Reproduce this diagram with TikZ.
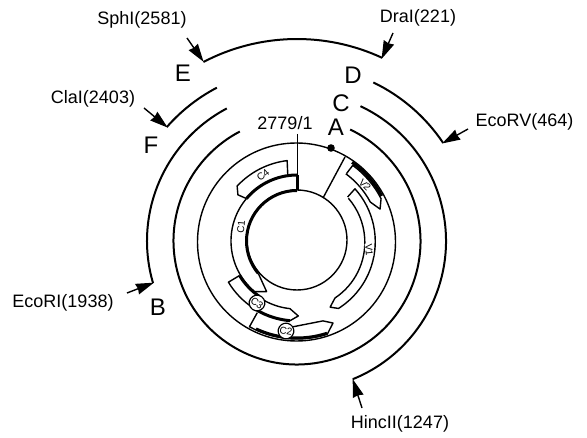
\documentclass[tikz,border=0pt]{standalone}
\usepackage{fontspec}
\setmainfont{Liberation Sans}
\usetikzlibrary{arrows.meta}
\tikzset{
  site/.style={font=\fontsize{18}{20}\selectfont,inner sep=0pt},
  letter/.style={font=\fontsize{24}{26}\selectfont,inner sep=0pt},
  ringarc/.style={line width=2pt},
  thinring/.style={line width=1.4pt},
  genebox/.style={line width=1.4pt,line join=round},
  heavy/.style={line width=3pt},
  leader/.style={line width=1.4pt,-{Stealth[length=18pt,width=11pt,inset=1pt]},shorten >=-1pt},
  tag/.style={font=\fontsize{10}{11}\selectfont,inner sep=0.4pt,fill=white},
  ctag/.style={tag,circle,draw,line width=1.2pt,minimum size=12pt}
}
\begin{document}
\begin{tikzpicture}[x=1pt,y=1pt]
\useasboundingbox (0,0) rectangle (587,-438);
\begin{scope}[shift={(297,-241)}]
  % restriction fragments
  \draw[ringarc] (65.1:202) arc[start angle=65.1,end angle=117.6,radius=202];
  \draw[ringarc] (64.3:176) arc[start angle=64.3,end angle=33.9,radius=176];
  \draw[ringarc] (117.6:173) arc[start angle=117.6,end angle=138.8,radius=173];
  \draw[ringarc] (64.8:149) arc[start angle=64.8,end angle=-68,radius=149];
  \draw[ringarc] (117.9:150) arc[start angle=117.9,end angle=196.3,radius=150];
  \draw[ringarc] (64.5:123.5) arc[start angle=64.5,end angle=-242.4,radius=123.5];
  % map circles
  \draw[thinring] (-0.5,-1) circle[radius=99];
  \draw[thinring] (0,1) circle[radius=50];
  % origin and radial lines
  \coordinate (tickTop) at (0.3,107);
  \coordinate (tickLow) at (0.3,51);
  \coordinate (tickMid) at (0.3,66);
  \coordinate (radA) at (48,84);
  \coordinate (radB) at (26,43);
  \draw[line width=1.4pt] (tickTop) -- (tickLow);
  \draw[line width=2.8pt] (tickMid) -- (tickLow);
  \draw[line width=1.4pt] (radA) -- (radB);
  \fill (34,93) circle[radius=3.8];
  % C1 and C4 inner strands
  \draw[heavy] (90:50.5) arc[start angle=90,end angle=220,radius=50.5];
  \draw[genebox] (220:50.5) -- (239:59) -- (230:66) arc[start angle=230,end angle=140,radius=66];
  \draw[heavy] (140:66) arc[start angle=140,end angle=90,radius=66];
  % C4
  \draw[genebox] (98:66) -- (97:81) arc[start angle=97,end angle=137,radius=82] -- (142:75) -- (140:66);
  % C3
  \draw[genebox] (211:67) -- (211:80) arc[start angle=211,end angle=265,radius=80] -- (271:75) -- (264:68) arc[start angle=264,end angle=238,radius=67];
  \draw[heavy] (211:67) arc[start angle=211,end angle=236,radius=67];
  \draw[heavy] (240:80) arc[start angle=240,end angle=265,radius=80];
  % C2
  \draw[genebox] (241:82) -- (241:98) arc[start angle=241,end angle=288,radius=98] -- (293.7:89.6) -- (288:84) -- (267:86);
  \draw[heavy] (245:97) arc[start angle=245,end angle=288,radius=97];
  % V2
  \draw[genebox] (53.7:84) -- (53.6:94) arc[start angle=53.6,end angle=27,radius=95] -- (21:89) -- (28:83) arc[start angle=28,end angle=53.7,radius=84];
  \draw[heavy] (55:96) arc[start angle=55,end angle=28,radius=96];
  % V1
  \draw[genebox] (41:67) -- (42:78) arc[start angle=42,end angle=-57.7,radius=79] -- (-63.4:74) -- (-56.3:68.5) arc[start angle=-56.3,end angle=41,radius=67];
  % gene labels
  \node[tag,rotate=40] (tC4) at (-34,66) {C4};
  \node[tag,rotate=85] (tC1) at (-56,14) {C1};
  \node[tag,rotate=-45] (tV2) at (68,56) {V2};
  \node[tag,rotate=-85] (tV1) at (72,-9) {V1};
  \node[ctag,rotate=-35] (tC3) at (-40,-62) {C3};
  \node[ctag,rotate=-10] (tC2) at (-11,-90) {C2};
\end{scope}
% site labels
\node[site] (sph) at (142,-20) {SphI(2581)};
\node[site] (cla) at (93,-99) {ClaI(2403)};
\node[site] (dra) at (418,-18) {DraI(221)};
\node[site] (eco5) at (524.5,-122) {EcoRV(464)};
\node[site] (eco1) at (63,-303) {EcoRI(1938)};
\node[site] (hin) at (400,-424) {HincII(1247)};
\node[site] (ori) at (285,-123) {2779/1};
% fragment letters
\node[letter] (lE) at (183,-73) {E};
\node[letter] (lF) at (151,-145) {F};
\node[letter] (lD) at (353,-75) {D};
\node[letter] (lC) at (341,-103) {C};
\node[letter] (lA) at (336,-127) {A};
\node[letter] (lB) at (158,-307) {B};
% leaders
\coordinate (a1) at (187,-38); \coordinate (b1) at (203,-61);
\coordinate (a2) at (144,-108); \coordinate (b2) at (167,-127);
\coordinate (a3) at (393,-33); \coordinate (b3) at (382,-58);
\coordinate (a4) at (468,-129); \coordinate (b4) at (443,-143);
\coordinate (a5) at (127,-293); \coordinate (b5) at (153,-283);
\coordinate (a6) at (362,-408); \coordinate (b6) at (353,-380);
\draw[leader] (a1) -- (b1);
\draw[leader] (a2) -- (b2);
\draw[leader] (a3) -- (b3);
\draw[leader] (a4) -- (b4);
\draw[leader] (a5) -- (b5);
\draw[leader] (a6) -- (b6);
\end{tikzpicture}
\end{document}
